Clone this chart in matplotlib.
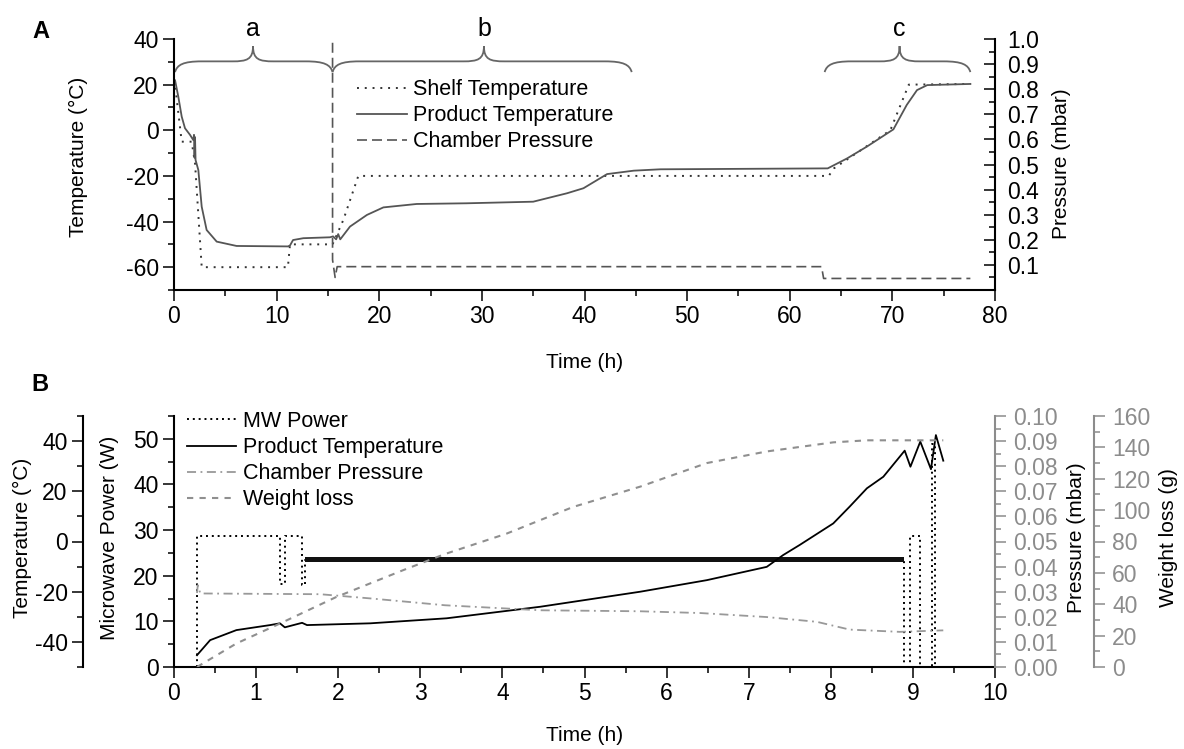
import numpy as np
import matplotlib.pyplot as plt
from matplotlib.path import Path
from matplotlib.patches import PathPatch
from matplotlib.ticker import MultipleLocator, FixedLocator, FormatStrFormatter

plt.rcParams['font.family'] = ['Liberation Sans', 'DejaVu Sans']
plt.rcParams['font.size'] = 15
plt.rcParams['axes.unicode_minus'] = False

# ---------------- panel A : conventional freeze drying ----------------
shelf_time = [0, 0.1, 0.75, 1.72, 2.05, 2.7, 11.1, 11.3, 15.45, 16.5, 17.96,
              63.8, 64.3, 67.2, 69.8, 71.6, 77.6]
shelf_temp = [22, 20, -5, -5, -14.5, -60, -60, -50, -50, -39.3, -20,
              -20, -16.7, -7.9, 0, 20, 20.3]

prodA_time = [0, 0.1, 0.42, 0.75, 1.07, 1.56, 1.88, 1.95, 2.0, 2.05,
              2.1, 2.37, 2.7, 3.18, 4.16, 6.1, 11.1, 11.3, 11.6, 12.6,
              15.2, 15.5, 15.8, 16.0, 16.2, 17.15, 18.8, 20.4, 23.65, 28.5,
              35, 38.3, 39.9, 42.2, 44.8, 47.4, 63.7, 65.6, 67.5, 70.1,
              71.4, 72.4, 73.4, 77.6]
prodA_temp = [22, 22, 14.7, 6, 0.9, -2, -4.3, -2, -12, -3,
              -13, -17.4, -33.5, -43.7, -48.8, -50.7, -50.9, -50.5, -48.1, -47.3,
              -46.9, -46.5, -47.8, -45.5, -47.8, -42.2, -37.1, -33.8, -32.3, -32,
              -31.3, -27.6, -25.4, -19.2, -17.7, -17.1, -16.7, -12.3, -7.2, 0.4,
              11.1, 17.6, 19.8, 20.3]

pressA_time = [15.45, 15.45, 15.7, 15.9, 63.1, 63.3, 77.6]
pressA_val = [0.985, 0.12, 0.05, 0.093, 0.093, 0.046, 0.046]

# drying phases (hours)
phase_label = ['a', 'b', 'c']
phase_start = [0.1, 15.45, 63.4]
phase_mid = [7.7, 30.2, 70.7]
phase_end = [15.45, 44.6, 77.6]

# ---------------- panel B : microwave freeze drying ----------------
mw_time = [0.28, 0.28, 1.29, 1.29, 1.35, 1.35, 1.56, 1.56, 1.60, 1.60,
           8.89, 8.89, 8.97, 8.97, 9.09, 9.09, 9.23, 9.23, 9.27, 9.27]
mw_power = [0, 28.8, 28.8, 18.2, 18.2, 28.8, 28.8, 17.9, 17.9, 23.5,
            23.5, 0, 0, 28.8, 28.8, 0, 0, 48.9, 48.9, 0]
# power cycling band between 1.6 h and 8.89 h
cyc_time = [1.60, 8.89]
cyc_low = 22.9
cyc_high = 24.2

prodB_time = [0.28, 0.44, 0.76, 1.17, 1.29, 1.35, 1.56, 1.62, 2.39, 3.32,
              4.46, 5.68, 6.49, 7.22, 7.42, 7.62, 8.03, 8.23, 8.44, 8.64,
              8.90, 8.97, 9.09, 9.22, 9.28, 9.37]
prodB_temp = [-45.3, -39.3, -35.3, -33.3, -32.6, -34.2, -32.4, -33.3, -32.6, -30.6,
              -26, -20, -15.4, -10.1, -5.4, -1.4, 7.2, 13.9, 21.2, 25.8,
              36.2, 29.8, 39.8, 28.8, 42.4, 32.2]

pressB_time = [0.28, 0.29, 0.32, 1.78, 2.4, 3.3, 4.46, 5.68, 6.41, 7.22,
               7.83, 8.23, 8.84, 9.37]
pressB_val = [0.0295, 0.0326, 0.0293, 0.0290, 0.0273, 0.0246, 0.0226, 0.0222,
              0.0215, 0.0199, 0.018, 0.0149, 0.014, 0.0146]

weight_time = [0.28, 0.76, 1.29, 1.98, 2.79, 3.3, 4.05, 4.86, 5.68, 6.49,
               7.22, 8.03, 8.44, 9.37]
weight_loss = [0, 15, 27.7, 44.7, 61.7, 72, 85, 102, 115, 130,
               137.4, 143.2, 144.5, 144.5]

GRAY = '#8c8c8c'
TICK_FS = 16.5
LEG_FS = 15.5


def style_ticks(ax, axis, color='black', direction='out'):
    ax.tick_params(axis=axis, which='major', length=8, width=1.1,
                   direction=direction, color=color, labelcolor=color,
                   labelsize=TICK_FS)
    ax.tick_params(axis=axis, which='minor', length=4.5, width=1.1,
                   direction=direction, color=color)


def brace(ax, x0, xm, x1, y_end=25.5, y_flat=30.2, y_peak=36.9):
    verts = [(x0, y_end),
             (x0 + 0.2, y_flat - 1.5), (x0 + 0.8, y_flat), (x0 + 2.6, y_flat),
             (xm - 2.0, y_flat),
             (xm - 0.6, y_flat), (xm, y_flat + 0.8), (xm, y_peak),
             (xm, y_flat + 0.8), (xm + 0.6, y_flat), (xm + 2.0, y_flat),
             (x1 - 2.6, y_flat),
             (x1 - 0.8, y_flat), (x1 - 0.2, y_flat - 1.5), (x1, y_end)]
    codes = [Path.MOVETO,
             Path.CURVE4, Path.CURVE4, Path.CURVE4,
             Path.LINETO,
             Path.CURVE4, Path.CURVE4, Path.CURVE4,
             Path.CURVE4, Path.CURVE4, Path.CURVE4,
             Path.LINETO,
             Path.CURVE4, Path.CURVE4, Path.CURVE4]
    ax.add_patch(PathPatch(Path(verts, codes), fill=False, edgecolor='#666666',
                           lw=1.3, clip_on=False))


fig = plt.figure(figsize=(11.84, 7.49), dpi=100)

# ---- panel A ----
axA = fig.add_axes([174 / 1184, 1 - 290 / 749, 821 / 1184, 251 / 749])
axAP = axA.twinx()

l1, = axA.plot(shelf_time, shelf_temp, color='#333333', lw=1.4, ls=(0, (1, 3)),
               label='Shelf Temperature')
l2, = axA.plot(prodA_time, prodA_temp, color='#555555', lw=1.3,
               label='Product Temperature')
l3, = axAP.plot(pressA_time, pressA_val, color='#555555', lw=1.2, ls=(0, (6, 3)),
                label='Chamber Pressure')

axA.set_xlim(0, 80)
axA.set_ylim(-70, 40)
axAP.set_ylim(0, 1.0)
axA.xaxis.set_major_locator(MultipleLocator(10))
axA.xaxis.set_minor_locator(MultipleLocator(5))
axA.yaxis.set_major_locator(MultipleLocator(20))
axA.yaxis.set_minor_locator(MultipleLocator(10))
axAP.yaxis.set_major_locator(FixedLocator(np.arange(1, 11) / 10))
axAP.yaxis.set_minor_locator(FixedLocator(np.arange(0.05, 1.0, 0.1)))
axAP.yaxis.set_major_formatter(FormatStrFormatter('%.1f'))

for s in ['top', 'right']:
    axA.spines[s].set_visible(False)
for s in ['top', 'left', 'bottom']:
    axAP.spines[s].set_visible(False)
for sp in list(axA.spines.values()) + list(axAP.spines.values()):
    sp.set_linewidth(1.5)

style_ticks(axA, 'x')
style_ticks(axA, 'y')
style_ticks(axAP, 'y', direction='in')
axA.tick_params(axis='x', pad=3)
axA.tick_params(axis='y', pad=3)
axAP.tick_params(axis='y', which='major', pad=9)

axA.set_xlabel('Time (h)', fontsize=15)
axA.xaxis.set_label_coords(0.5, -0.287)
axA.xaxis.label.set_va('center')
axA.set_ylabel('Temperature (°C)', fontsize=15)
axA.yaxis.set_label_coords(-0.1166, 0.53)
axA.yaxis.label.set_va('center')
axAP.set_ylabel('Pressure (mbar)', fontsize=15)
axAP.yaxis.set_label_coords(1.0812, 0.502)
axAP.yaxis.label.set_va('center')

for name, x0, xm, x1 in zip(phase_label, phase_start, phase_mid, phase_end):
    brace(axA, x0, xm, x1)
    axA.text(xm, 41.2, name, fontsize=18, ha='center', va='baseline', clip_on=False)

axAP.legend([l1, l2, l3], [l.get_label() for l in (l1, l2, l3)],
            loc='upper left', bbox_to_anchor=(0.223, 0.84), frameon=False,
            fontsize=LEG_FS, handlelength=2.3, handletextpad=0.3, labelspacing=0.24,
            borderpad=0, borderaxespad=0)

fig.text(41 / 1184, 1 - 31 / 749, 'A', fontsize=17, fontweight='bold',
         ha='center', va='center')

# ---- panel B ----
axB = fig.add_axes([174 / 1184, 1 - 667 / 749, 821 / 1184, 251 / 749])
axBT = axB.twinx()
axBP = axB.twinx()
axBW = axB.twinx()

m1, = axB.plot(mw_time, mw_power, color='black', lw=1.4, ls=(0, (1, 2)),
               label='MW Power')
axB.fill_between(cyc_time, cyc_low, cyc_high, color='#111111', lw=0, zorder=3)
m2, = axBT.plot(prodB_time, prodB_temp, color='black', lw=1.3,
                label='Product Temperature')
m3, = axBP.plot(pressB_time, pressB_val, color='#999999', lw=1.3,
                ls=(0, (5, 2.5, 1, 2.5)), label='Chamber Pressure')
m4, = axBW.plot(weight_time, weight_loss, color='#8f8f8f', lw=1.5,
                ls=(0, (3, 3)), label='Weight loss')

axB.set_xlim(0, 10)
axB.set_ylim(0, 55)
axBT.set_ylim(-50, 50)
axBP.set_ylim(0, 0.1)
axBW.set_ylim(0, 160)

axB.xaxis.set_major_locator(MultipleLocator(1))
axB.xaxis.set_minor_locator(MultipleLocator(0.5))
axB.yaxis.set_major_locator(MultipleLocator(10))
axB.yaxis.set_minor_locator(MultipleLocator(5))
axBT.yaxis.set_major_locator(MultipleLocator(20))
axBT.yaxis.set_minor_locator(MultipleLocator(10))
axBP.yaxis.set_major_locator(MultipleLocator(0.01))
axBP.yaxis.set_minor_locator(MultipleLocator(0.005))
axBP.yaxis.set_major_formatter(FormatStrFormatter('%.2f'))
axBW.yaxis.set_major_locator(MultipleLocator(20))
axBW.yaxis.set_minor_locator(MultipleLocator(10))

for s in ['top', 'right']:
    axB.spines[s].set_visible(False)

axBT.spines['left'].set_position(('axes', -0.111))
axBT.spines['left'].set_visible(True)
axBT.yaxis.set_ticks_position('left')
axBT.yaxis.set_label_position('left')
for s in ['top', 'right', 'bottom']:
    axBT.spines[s].set_visible(False)

for s in ['top', 'left', 'bottom']:
    axBP.spines[s].set_visible(False)
    axBW.spines[s].set_visible(False)
axBW.spines['right'].set_position(('axes', 1.1206))
axBP.spines['right'].set_color(GRAY)
axBW.spines['right'].set_color(GRAY)

for a in (axB, axBT, axBP, axBW):
    for sp in a.spines.values():
        sp.set_linewidth(1.5)

style_ticks(axB, 'x')
style_ticks(axB, 'y')
style_ticks(axBT, 'y')
style_ticks(axBP, 'y', color=GRAY)
style_ticks(axBW, 'y', color=GRAY)
axB.tick_params(axis='x', pad=3)
for a in (axB, axBT):
    a.tick_params(axis='y', pad=3)
for a in (axBP, axBW):
    a.tick_params(axis='y', pad=5)

axB.set_xlabel('Time (h)', fontsize=15)
axB.xaxis.set_label_coords(0.5, -0.271)
axB.xaxis.label.set_va('center')
axB.set_ylabel('Microwave Power (W)', fontsize=15)
axB.yaxis.set_label_coords(-0.078, 0.514)
axB.yaxis.label.set_va('center')
axBT.set_ylabel('Temperature (°C)', fontsize=15)
axBT.yaxis.set_label_coords(-0.1845, 0.514)
axBT.yaxis.label.set_va('center')
axBP.set_ylabel('Pressure (mbar)', fontsize=15)
axBP.yaxis.set_label_coords(1.0987, 0.514)
axBP.yaxis.label.set_va('center')
axBW.set_ylabel('Weight loss (g)', fontsize=15)
axBW.yaxis.set_label_coords(1.2119, 0.514)
axBW.yaxis.label.set_va('center')

axBW.legend([m1, m2, m3, m4], [l.get_label() for l in (m1, m2, m3, m4)],
            loc='upper left', bbox_to_anchor=(0.0158, 1.02), frameon=False,
            fontsize=LEG_FS, handlelength=2.3, handletextpad=0.3, labelspacing=0.24,
            borderpad=0, borderaxespad=0)

fig.text(40 / 1184, 1 - 385 / 749, 'B', fontsize=17, fontweight='bold',
         ha='center', va='center')

fig.savefig('out.png', dpi=100)
